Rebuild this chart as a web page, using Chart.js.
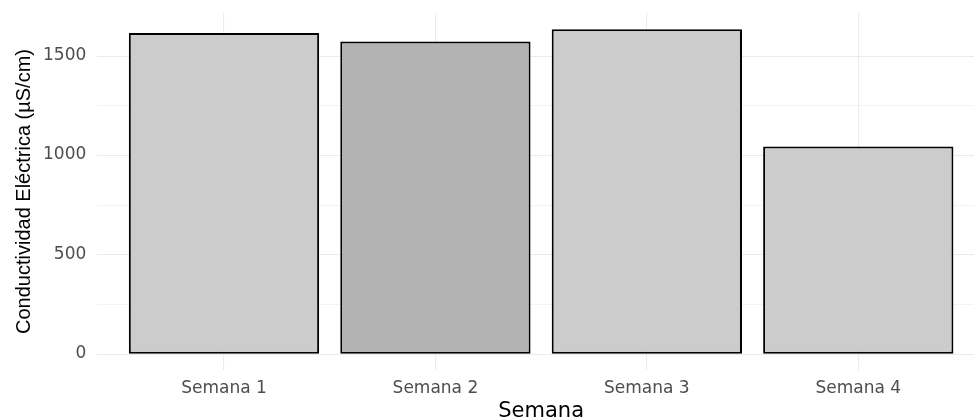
<!DOCTYPE html>
<html>
<head>
<meta charset="utf-8">
<script src="https://cdn.jsdelivr.net/npm/chart.js@4"></script>
<style>
  html, body { margin: 0; padding: 0; background: #fff; }
  #wrap { width: 974px; height: 419px; }
</style>
</head>
<body>
<div id="wrap"><canvas id="chart" width="974" height="419"></canvas></div>
<script>
const semanas = ['Semana 1', 'Semana 2', 'Semana 3', 'Semana 4'];
const conductividad = [1613, 1571, 1632, 1043];
const barColors = ['#cccccc', '#b3b3b3', '#cccccc', '#cccccc'];
const yTicks = [0, 250, 500, 750, 1000, 1250, 1500];
const yLabels = [0, 500, 1000, 1500];

// horizontal grid drawn across the whole panel (ggplot expands the discrete axis)
const panelGrid = {
    id: 'panelGrid',
    beforeDatasetsDraw(chart) {
        const { ctx, scales: { x, y } } = chart;
        const step = x.getPixelForValue(1) - x.getPixelForValue(0);
        const left = x.getPixelForValue(0) - 0.6 * step;
        const right = Math.min(chart.width, x.getPixelForValue(semanas.length - 1) + 0.6 * step);
        ctx.save();
        ctx.strokeStyle = '#ebebeb';
        yTicks.forEach(v => {
            const py = Math.round(y.getPixelForValue(v)) + 0.5;
            ctx.lineWidth = yLabels.includes(v) ? 1.1 : 0.6;
            ctx.beginPath();
            ctx.moveTo(left, py);
            ctx.lineTo(right, py);
            ctx.stroke();
        });
        ctx.restore();
    }
};

new Chart(document.getElementById('chart'), {
    type: 'bar',
    data: {
        labels: semanas,
        datasets: [{
            data: conductividad,
            backgroundColor: barColors,
            borderColor: '#000000',
            borderWidth: 2,
            borderSkipped: false,
            categoryPercentage: 1,
            barPercentage: 0.9
        }]
    },
    options: {
        responsive: false,
        animation: false,
        layout: { padding: { top: 13, right: 10, bottom: 0, left: 0 } },
        plugins: {
            legend: { display: false },
            tooltip: { enabled: false }
        },
        scales: {
            x: {
                offset: true,
                border: { display: false },
                grid: {
                    offset: false,
                    color: '#ebebeb',
                    lineWidth: 1.1,
                    drawTicks: true,
                    tickLength: 10,
                    tickColor: 'rgba(0,0,0,0)'
                },
                ticks: {
                    padding: 0,
                    color: '#4d4d4d',
                    font: { family: 'DejaVu Sans', size: 17, lineHeight: 1 }
                },
                title: {
                    display: true,
                    text: 'Semana',
                    color: '#000000',
                    padding: { top: 4, bottom: -3 },
                    font: { family: 'DejaVu Sans', size: 21, lineHeight: 1 }
                }
            },
            y: {
                min: -82,
                max: 1714,
                border: { display: false },
                grid: { display: false, drawTicks: true, tickLength: 32 },
                afterBuildTicks: scale => {
                    scale.ticks = yLabels.map(v => ({ value: v }));
                },
                ticks: {
                    padding: 0,
                    color: '#4d4d4d',
                    callback: value => String(value),
                    font: { family: 'DejaVu Sans', size: 17, lineHeight: 1 }
                },
                title: {
                    display: true,
                    text: 'Conductividad Eléctrica (µS/cm)',
                    color: '#000000',
                    padding: { top: 14, bottom: 9 },
                    font: { family: 'Liberation Sans', size: 20, lineHeight: 1 }
                }
            }
        }
    },
    plugins: [panelGrid]
});
</script>
</body>
</html>
